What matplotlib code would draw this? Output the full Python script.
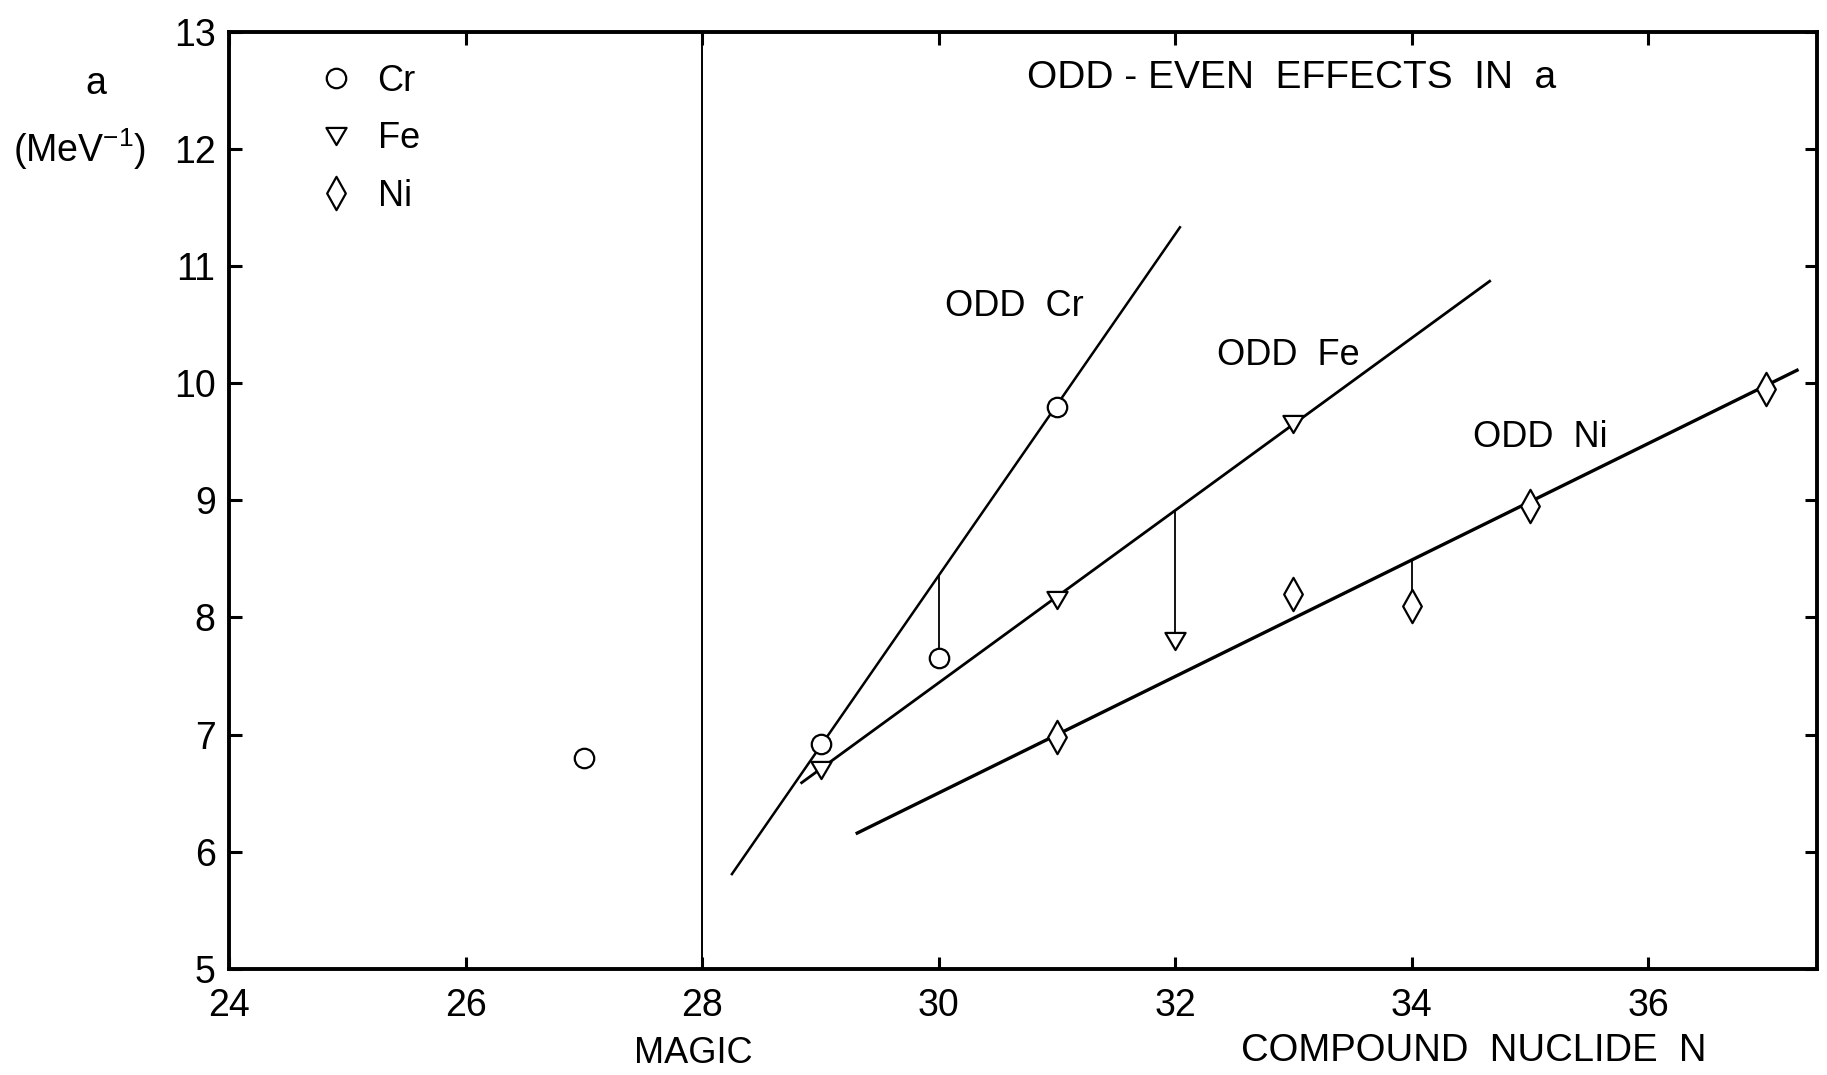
import numpy as np
import matplotlib
matplotlib.use('Agg')
import matplotlib.pyplot as plt
from matplotlib import font_manager
from matplotlib.path import Path

# narrow sans if present, otherwise plain Liberation Sans
names = set(f.name for f in font_manager.fontManager.ttflist)
fam = 'Liberation Sans Narrow' if 'Liberation Sans Narrow' in names else 'Liberation Sans'
plt.rcParams['font.family'] = [fam, 'DejaVu Sans']
plt.rcParams['mathtext.default'] = 'regular'

# measured points: neutron number N vs level density parameter a
cr_n = [27, 29, 30, 31]
cr_a = [6.80, 6.92, 7.65, 9.80]
fe_n = [29, 31, 32, 33]
fe_a = [6.70, 8.15, 7.80, 9.65]
ni_n = [31, 33, 34, 35, 37]
ni_a = [6.98, 8.20, 8.10, 8.95, 9.95]

# straight lines through the odd-N points (end points)
cr_line_n = [28.25, 32.04]
cr_line_a = [5.81, 11.33]
fe_line_n = [28.84, 34.66]
fe_line_a = [6.59, 10.87]
ni_line_n = [29.31, 37.26]
ni_line_a = [6.16, 10.11]

# even-N points dropped down from the odd line
drop_cr_n, drop_cr_a = 30, 7.65
drop_fe_n, drop_fe_a = 32, 7.80
drop_ni_n, drop_ni_a = 34, 8.10

magic_n = 28
xticks = [24, 26, 28, 30, 32, 34, 36]
yticks = [5, 6, 7, 8, 9, 10, 11, 12, 13]

# closed outlines for the triangle / narrow diamond symbols
tri_v = [(-1, 0.85), (1, 0.85), (0, -0.85)]
dia_v = [(0, 1), (0.56, 0), (0, -1), (-0.56, 0)]
tri = Path(tri_v + [tri_v[0]], closed=True)
dia = Path(dia_v + [dia_v[0]], closed=True)

fig = plt.figure(figsize=(18.27, 10.75), dpi=100)
ax = fig.add_axes([0.1256, 0.0986, 0.869, 0.872])

mk = dict(linestyle='none', mfc='white', mec='black', mew=1.6, zorder=5)
ax.plot(cr_line_n, cr_line_a, color='black', lw=1.8)
ax.plot(fe_line_n, fe_line_a, color='black', lw=2.0)
ax.plot(ni_line_n, ni_line_a, color='black', lw=2.4)

for n, a, ln, la in [(drop_cr_n, drop_cr_a, cr_line_n, cr_line_a),
                     (drop_fe_n, drop_fe_a, fe_line_n, fe_line_a),
                     (drop_ni_n, drop_ni_a, ni_line_n, ni_line_a)]:
    top = np.interp(n, ln, la)
    ax.vlines(n, a, top, color='black', lw=1.3)

ax.plot(cr_n, cr_a, marker='o', ms=14, label='Cr', **mk)
ax.plot(fe_n, fe_a, marker=tri, ms=14.5, label='Fe', **mk)
ax.plot(ni_n, ni_a, marker=dia, ms=24, label='Ni', **mk)

ax.axvline(magic_n, color='black', lw=1.4)

ax.set_xlim(24, 37.43)
ax.set_ylim(5, 13)
ax.set_xticks(xticks)
ax.set_yticks(yticks)
ax.tick_params(direction='in', length=9, width=2.2, top=True, right=True,
               labelsize=27)
ax.tick_params(axis='x', pad=14)
ax.tick_params(axis='y', pad=10)
for s in ax.spines.values():
    s.set_linewidth(2.8)

leg = ax.legend(loc='upper left', bbox_to_anchor=(0.033, 1.0), frameon=False,
                fontsize=26, handletextpad=0.55, labelspacing=0.62,
                handlelength=1.2, numpoints=1)

ax.text(32.98, 12.60, 'ODD - EVEN  EFFECTS  IN  a', fontsize=28,
        ha='center', va='center')
ax.text(30.64, 10.65, 'ODD  Cr', fontsize=26, ha='center', va='center')
ax.text(32.96, 10.24, 'ODD  Fe', fontsize=26, ha='center', va='center')
ax.text(35.09, 9.54, 'ODD  Ni', fontsize=26, ha='center', va='center')

ax.text(0.292, -0.09, 'MAGIC', fontsize=26, ha='center', va='center',
        transform=ax.transAxes)
ax.text(0.7836, -0.088, 'COMPOUND  NUCLIDE  N', fontsize=27.5, ha='center',
        va='center', transform=ax.transAxes)

fig.text(0.0523, 0.922, 'a', fontsize=27, ha='center', va='center')
fig.text(0.0434, 0.861, '(MeV$^{-1}$)', fontsize=27, ha='center', va='center')

fig.savefig('out.png', dpi=100)
